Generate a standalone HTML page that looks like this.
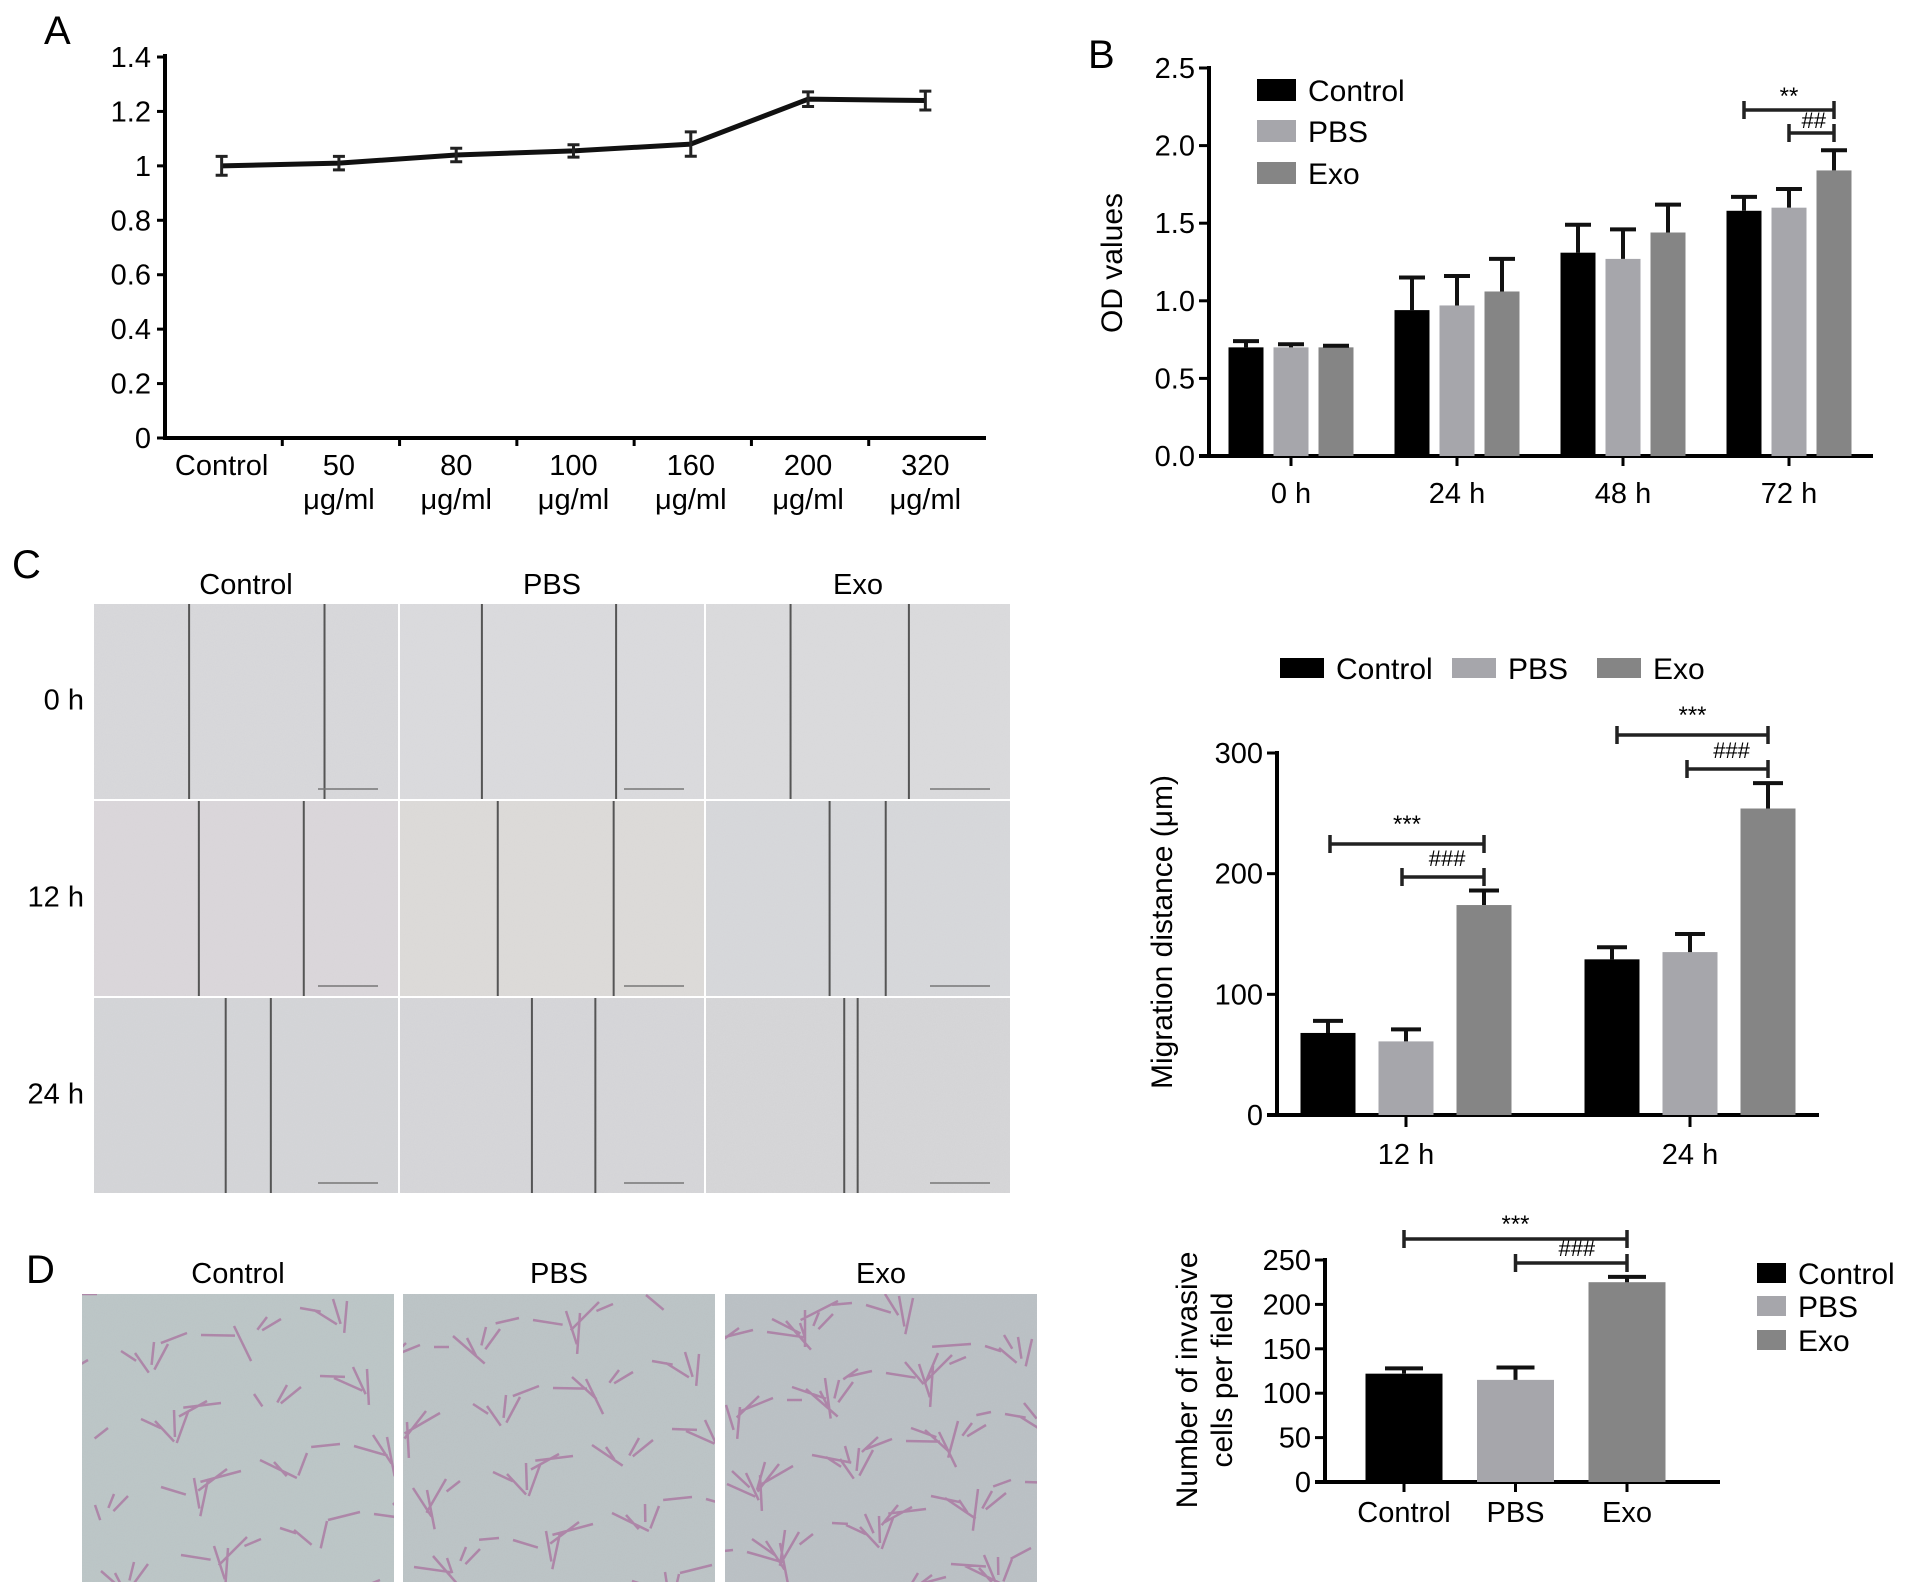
<!DOCTYPE html>
<html><head><meta charset="utf-8"><style>
html,body{margin:0;padding:0;background:#fff;}
svg{display:block;font-family:"Liberation Sans",Arial,sans-serif;}
</style></head><body>
<svg id="fig" width="1913" height="1595" viewBox="0 0 1913 1595" xmlns="http://www.w3.org/2000/svg">
<defs>
<filter id="grain" x="0" y="0" width="100%" height="100%"><feTurbulence type="fractalNoise" baseFrequency="0.9" numOctaves="2" seed="3"/><feColorMatrix values="0 0 0 0 0.5  0 0 0 0 0.5  0 0 0 0 0.5  0 0 0 0.25 0"/><feComposite in2="SourceGraphic" operator="in"/></filter>
<clipPath id="dclip0"><rect x="82" y="1294" width="312" height="288"/></clipPath>
<clipPath id="dclip1"><rect x="403" y="1294" width="312" height="288"/></clipPath>
<clipPath id="dclip2"><rect x="725" y="1294" width="312" height="288"/></clipPath>
</defs>
<g id="panelLetters" font-size="40">
<text x="44" y="44">A</text>
<text x="1088" y="68">B</text>
<text x="12" y="578">C</text>
<text x="26" y="1283">D</text>
</g>
<g id="gA"></g>
<g id="gB"></g>
<g id="gCimg"></g>
<g id="gC"></g>
<g id="gDimg"></g>
<g id="gD"></g>
</svg>
<script>
// ---- Panel A data ----
const aCategories = ["Control","50","80","100","160","200","320"];
const aValues = [1.0, 1.01, 1.04, 1.055, 1.08, 1.245, 1.24];
const aErrors = [0.02, 0.01, 0.01, 0.008, 0.03, 0.012, 0.02];
const aTicks = ["0","0.2","0.4","0.6","0.8","1","1.2","1.4"];
// ---- Panel B data ----
const bGroups = ["0 h","24 h","48 h","72 h"];
const bControl = [0.70, 0.94, 1.31, 1.58];
const bControlErr = [0.04, 0.21, 0.18, 0.09];
const bPBS = [0.70, 0.97, 1.27, 1.60];
const bPBSErr = [0.02, 0.19, 0.19, 0.12];
const bExo = [0.70, 1.06, 1.44, 1.84];
const bExoErr = [0.01, 0.21, 0.18, 0.13];
const bTicks = ["0.0","0.5","1.0","1.5","2.0","2.5"];
// ---- Panel C data ----
const cGroups = ["12 h","24 h"];
const cControl = [68, 129];
const cControlErr = [10, 10];
const cPBS = [61, 135];
const cPBSErr = [10, 15];
const cExo = [174, 254];
const cExoErr = [12, 21];
const cTicks = ["0","100","200","300"];
// ---- Panel D data ----
const dCategories = ["Control","PBS","Exo"];
const dValues = [122, 115, 225];
const dErrors = [6, 14, 6];
const dTicks = ["0","50","100","150","200","250"];

const NS="http://www.w3.org/2000/svg";
const COLORS=["#000000","#a6a6ab","#858585"];
function mk(parent,tag,attrs,text){const e=document.createElementNS(NS,tag);for(const k in attrs)e.setAttribute(k,attrs[k]);if(text!==undefined)e.textContent=text;parent.appendChild(e);return e;}

// ===== Panel A =====
(function(){
const g=document.getElementById('gA');
const x0=165,x1=986,yTop=57,yBot=438,vmax=1.4;
const y=v=>yBot-(v/vmax)*(yBot-yTop);
const n=aCategories.length, step=(x1-x0)/n;
const x=i=>x0+step*(i+0.5)-2;
let a=mk(g,'line',{x1:x0,y1:yTop-3,x2:x0,y2:yBot+2,stroke:'#000','stroke-width':4});

a=mk(g,'line',{x1:x0-2,y1:yBot,x2:x1,y2:yBot,stroke:'#000','stroke-width':4});

aTicks.forEach((t,i)=>{const v=parseFloat(t);const yy=y(v);
 mk(g,'line',{x1:x0-8,y1:yy,x2:x0,y2:yy,stroke:'#000','stroke-width':3});
 const tx=mk(g,'text',{x:x0-14,y:yy+10,'font-size':29,'text-anchor':'end'},t);
 });
for(let i=1;i<n;i++){mk(g,'line',{x1:x0+step*i,y1:yBot,x2:x0+step*i,y2:yBot+8,stroke:'#000','stroke-width':3});}
aCategories.forEach((c,i)=>{
 const t=mk(g,'text',{x:x(i),y:475,'font-size':29,'text-anchor':'middle'},c);
 
 if(i>0){const u=mk(g,'text',{x:x(i),y:509,'font-size':29,'text-anchor':'middle'},'μg/ml');
 }
});
const pts=aValues.map((v,i)=>x(i)+','+y(v)).join(' ');
const pl=mk(g,'polyline',{points:pts,fill:'none',stroke:'#111','stroke-width':5,'stroke-linejoin':'round'});

aValues.forEach((v,i)=>{const xx=x(i),e=aErrors[i];
 const eb=mk(g,'path',{d:`M${xx},${y(v+e)-4}V${y(v-e)+4}M${xx-6},${y(v+e)-4}H${xx+6}M${xx-6},${y(v-e)+4}H${xx+6}`,stroke:'#222','stroke-width':3,fill:'none'});
 });
})();

function barAxis(g,prefix,o){
 const y=v=>o.y0-(v/o.vmax)*(o.y0-o.yTop);
 let a=mk(g,'line',{x1:o.x0,y1:o.yTop-2,x2:o.x0,y2:o.y0+2,stroke:'#000','stroke-width':4});
 
 a=mk(g,'line',{x1:o.x0-10,y1:o.y0,x2:o.x1,y2:o.y0,stroke:'#000','stroke-width':4});
 
 o.ticks.forEach(t=>{const yy=y(parseFloat(t));
  mk(g,'line',{x1:o.x0-10,y1:yy,x2:o.x0,y2:yy,stroke:'#000','stroke-width':3});
  const tx=mk(g,'text',{x:o.x0-14,y:yy+10,'font-size':29,'text-anchor':'end'},t);
  });
 return y;
}
function bar(g,name,cx,w,v,err,col,y,y0,cap){
 const r=mk(g,'rect',{x:cx-w/2,y:y(v),width:w,height:y0-y(v),fill:col});
 
 const e=mk(g,'path',{d:`M${cx},${y(v)}V${y(v+err)}M${cx-cap/2},${y(v+err)}H${cx+cap/2}`,stroke:'#111','stroke-width':4,fill:'none'});
 
}
function bracket(g,name,xa,xb,yy,label,ly){
 const p=mk(g,'path',{d:`M${xa},${yy-9}V${yy+9}M${xa},${yy}H${xb}M${xb},${yy-9}V${yy+9}`,stroke:'#222','stroke-width':3.5,fill:'none'});
 
 const t=mk(g,'text',{x:(xa+xb)/2+(label[0]=='#'?(xb-xa)*0.05:0),y:ly,'font-size':label[0]=='#'?22:24,'text-anchor':'middle'},label);
 
}
function legendItem(g,name,x,yc,col,label,sw,sh,fs){
 const r=mk(g,'rect',{x:x,y:yc-sh/2,width:sw,height:sh,fill:col});
 
 const t=mk(g,'text',{x:x+sw+12,y:yc+fs*0.36,'font-size':fs},label);
 
}

// ===== Panel B =====
(function(){
const g=document.getElementById('gB');
const o={x0:1209,x1:1873,y0:456,yTop:68,vmax:2.5,ticks:bTicks};
const y=barAxis(g,'b',o);
const gw=(o.x1-o.x0)/bGroups.length;
const gc=i=>o.x0+gw*(i+0.5)-1;
const series=[bControl,bPBS,bExo],errs=[bControlErr,bPBSErr,bExoErr],names=['control','pbs','exo'];
bGroups.forEach((lab,i)=>{
 mk(g,'line',{x1:gc(i),y1:o.y0,x2:gc(i),y2:o.y0+10,stroke:'#000','stroke-width':3});
 const t=mk(g,'text',{x:gc(i),y:503,'font-size':29,'text-anchor':'middle'},lab);
 
 series.forEach((s,k)=>bar(g,'b-bar-'+names[k],gc(i)+(k-1)*45,35,s[i],errs[k][i],COLORS[k],y,o.y0,26));
});
const l=bGroups.length-1;
bracket(g,'b-sig-control-exo',gc(l)-45,gc(l)+45,110,'**',104);
bracket(g,'b-sig-pbs-exo',gc(l),gc(l)+45,133,'##',128);
legendItem(g,'b-legend-control',1257,90,COLORS[0],'Control',39,22,30);
legendItem(g,'b-legend-pbs',1257,131,COLORS[1],'PBS',39,22,30);
legendItem(g,'b-legend-exo',1257,173,COLORS[2],'Exo',39,22,30);
const yl=mk(g,'text',{x:0,y:0,'font-size':30,'text-anchor':'middle',transform:'translate(1122,263) rotate(-90)'},'OD values');

})();

// ===== Panel C images =====
(function(){
const g=document.getElementById('gCimg');
const cols=[94,400,706],rows=[604,801,998],w=304,h=195;
const heads=['Control','PBS','Exo'];
const rowLab=['0 h','12 h','24 h'];
const lines=[[[155,266],[395,505],[648,745]],[[163,249],[408,503],[680,726]],[[185,222],[436,488],[692,703]]];
const fills=[['#d9d9dc','#dcdcdf','#dcdcde'],['#dcd8dc','#dedcda','#d8d9dc'],['#d5d6d9','#d7d7da','#d7d7d9']];
heads.forEach((hh,c)=>{const t=mk(g,'text',{x:cols[c]+w/2,y:594,'font-size':29,'text-anchor':'middle'},hh);
 });
rowLab.forEach((rl,r)=>{const t=mk(g,'text',{x:84,y:rows[r]+h/2+8,'font-size':29,'text-anchor':'end'},rl);
 });
for(let r=0;r<3;r++)for(let c=0;c<3;c++){
 const im=mk(g,'rect',{x:cols[c],y:rows[r],width:w,height:h,fill:fills[r][c]});
 
 mk(g,'rect',{x:cols[c],y:rows[r],width:w,height:h,fill:'#fff',filter:'url(#grain)',opacity:0.5});
 lines[r][c].forEach(lx=>{const X=lx*1.22;mk(g,'line',{x1:X,y1:rows[r],x2:X,y2:rows[r]+h,stroke:'#555','stroke-width':2});});
 mk(g,'line',{x1:cols[c]+w-80,y1:rows[r]+h-10,x2:cols[c]+w-20,y2:rows[r]+h-10,stroke:'#777','stroke-width':1.5});
}
})();

// ===== Panel C chart =====
(function(){
const g=document.getElementById('gC');
const o={x0:1277,x1:1819,y0:1115,yTop:753,vmax:300,ticks:cTicks};
const y=barAxis(g,'c',o);
const gcx=[1406,1690];
const series=[cControl,cPBS,cExo],errs=[cControlErr,cPBSErr,cExoErr],names=['control','pbs','exo'];
cGroups.forEach((lab,i)=>{
 mk(g,'line',{x1:gcx[i],y1:o.y0,x2:gcx[i],y2:o.y0+12,stroke:'#000','stroke-width':3});
 const t=mk(g,'text',{x:gcx[i],y:1164,'font-size':29,'text-anchor':'middle'},lab);
 
 series.forEach((s,k)=>bar(g,'c-bar-'+names[k],gcx[i]+(k-1)*78,55,s[i],errs[k][i],COLORS[k],y,o.y0,30));
});
bracket(g,'c-sig-12h-control-exo',gcx[0]-76,gcx[0]+78,844,'***',832);
bracket(g,'c-sig-12h-pbs-exo',gcx[0]-4,gcx[0]+78,877,'###',866);
bracket(g,'c-sig-24h-control-exo',gcx[1]-73,gcx[1]+78,735,'***',723);
bracket(g,'c-sig-24h-pbs-exo',gcx[1]-3,gcx[1]+78,769,'###',758);
legendItem(g,'c-legend-control',1280,668,COLORS[0],'Control',44,20,30);
legendItem(g,'c-legend-pbs',1452,668,COLORS[1],'PBS',44,20,30);
legendItem(g,'c-legend-exo',1597,668,COLORS[2],'Exo',44,20,30);
const yl=mk(g,'text',{x:0,y:0,'font-size':30,'text-anchor':'middle',transform:'translate(1172,932) rotate(-90)'},'Migration distance (μm)');

})();

// ===== Panel D images =====
(function(){
const g=document.getElementById('gDimg');
const cols=[82,403,725],w=312,top=1294,h=288;
const heads=['Control','PBS','Exo'];
const dens=[1,1.15,1.7];
heads.forEach((hh,c)=>{
 const t=mk(g,'text',{x:cols[c]+w/2,y:1283,'font-size':29,'text-anchor':'middle'},hh);
 
 const im=mk(g,'rect',{x:cols[c],y:top,width:w,height:h,fill:'#bfcccb'});
 
 mk(g,'rect',{x:cols[c],y:top,width:w,height:h,fill:'#fff',filter:'url(#grain)',opacity:0.8});
 mk(g,'rect',{x:cols[c],y:top,width:w,height:h,fill:'#a0709a',opacity:0.06*dens[c]});
 let d='';
 for(let k=0;k<Math.round(60*dens[c]);k++){
  const px=cols[c]+((k*73+c*31)%w), py=top+((k*127+c*53)%h);
  const ang=(k*47)%180*Math.PI/180, L=15+(k*13)%28;
  d+=`M${px},${py}L${px+Math.cos(ang)*L},${py+Math.sin(ang)*L}`;
 }
 mk(g,'path',{d:d,stroke:'#a2548f','stroke-width':2.5,opacity:0.55,fill:'none','clip-path':`url(#dclip${c})`});
});
})();

// ===== Panel D chart =====
(function(){
const g=document.getElementById('gD');
const o={x0:1325,x1:1720,y0:1482,yTop:1260,vmax:250,ticks:dTicks};
const y=barAxis(g,'d',o);
const cx=i=>1404+i*111.5;
dCategories.forEach((c,i)=>{
 mk(g,'line',{x1:cx(i),y1:o.y0,x2:cx(i),y2:o.y0+10,stroke:'#000','stroke-width':3});
 const t=mk(g,'text',{x:cx(i),y:1522,'font-size':29,'text-anchor':'middle'},c);
 
 bar(g,'d-bar-'+c.toLowerCase(),cx(i),77,dValues[i],dErrors[i],COLORS[i],y,o.y0,38);
});
bracket(g,'d-sig-control-exo',cx(0),cx(2),1239,'***',1232);
bracket(g,'d-sig-pbs-exo',cx(1),cx(2),1263,'###',1256);
legendItem(g,'d-legend-control',1757,1273,COLORS[0],'Control',29,20,30);
legendItem(g,'d-legend-pbs',1757,1306,COLORS[1],'PBS',29,20,30);
legendItem(g,'d-legend-exo',1757,1340,COLORS[2],'Exo',29,20,30);
let yl=mk(g,'text',{x:0,y:0,'font-size':30,'text-anchor':'middle',transform:'translate(1197,1380) rotate(-90)'},'Number of invasive');

yl=mk(g,'text',{x:0,y:0,'font-size':30,'text-anchor':'middle',transform:'translate(1232,1380) rotate(-90)'},'cells per field');

})();
</script>
</body></html>
